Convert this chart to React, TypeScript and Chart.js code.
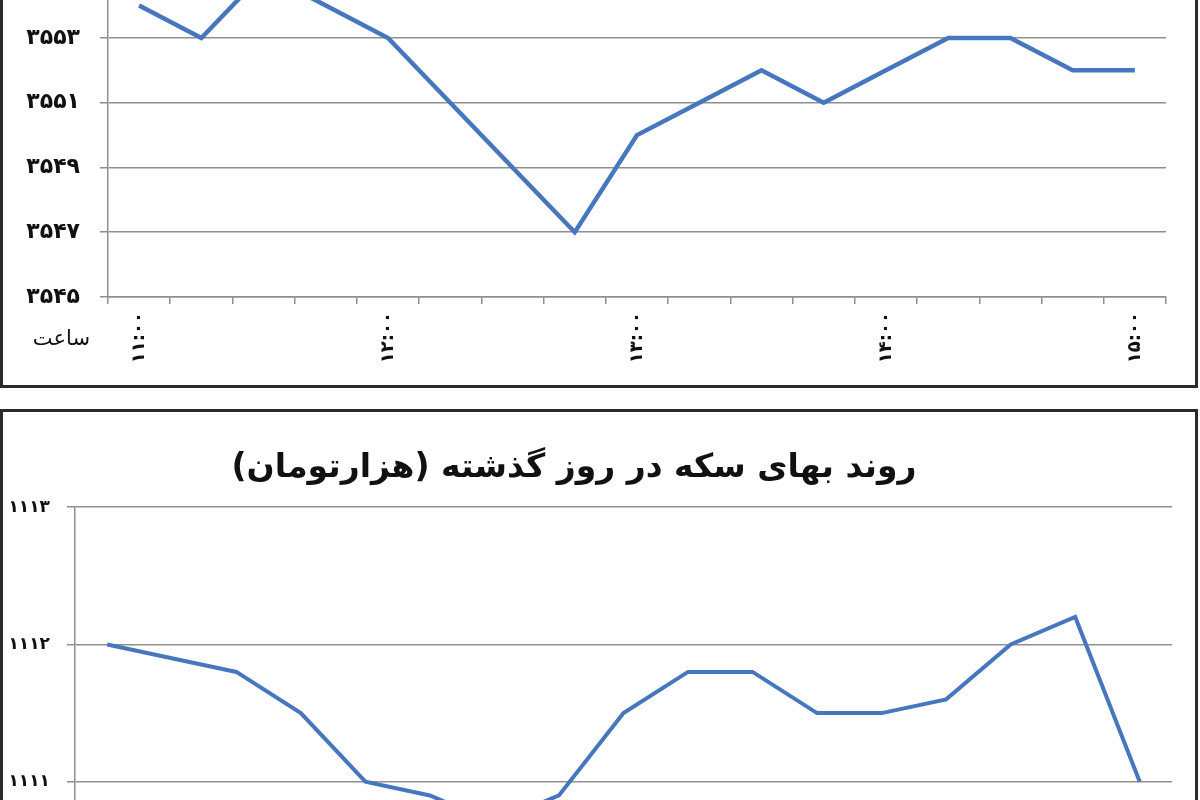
import { useEffect, useRef } from 'react';
import { Chart, registerables } from 'chart.js';

Chart.register(...registerables);

// quarter-hour readings, 11:00 to 15:00
const times = [
    '11:00', '11:15', '11:30', '11:45',
    '12:00', '12:15', '12:30', '12:45',
    '13:00', '13:15', '13:30', '13:45',
    '14:00', '14:15', '14:30', '14:45',
    '15:00',
];
const hourLabels = ['11:00', '12:00', '13:00', '14:00', '15:00'];

// upper chart (cut off at the top of the page)
const upperValues = [
    3554, 3553, 3555, 3554, 3553, 3551, 3549, 3547, 3550,
    3551, 3552, 3551, 3552, 3553, 3553, 3552, 3552,
];
const upperTicks = [3545, 3547, 3549, 3551, 3553, 3555];

// coin price, thousand toman
const coinValues = [
    1112, 1111.9, 1111.8, 1111.5, 1111.0, 1110.9, 1110.7, 1110.9, 1111.5,
    1111.8, 1111.8, 1111.5, 1111.5, 1111.6, 1112, 1112.2, 1111,
];
const coinTicks = [1110, 1111, 1112, 1113];

const coinTitle = 'روند بهای سکه در روز گذشته (هزارتومان)';
const hourWord = 'ساعت';

const FONT = "'DejaVu Sans', sans-serif";
const LINE = '#4677be';
const GRID = '#8f8f8f';

const faDigits = '۰۱۲۳۴۵۶۷۸۹';
const toFa = (s: string) => s.replace(/\d/g, (d) => faDigits[Number(d)]);

interface ChartSetup {
    values: number[];
    ticks: number[];
    yWidth: number;
    xHeight: number;
    padTop: number;
    padRight: number;
    yFontSize: number;
    yPadding: number;
    lineWidth: number;
}

function LineBox({ setup, style }: { setup: ChartSetup; style: React.CSSProperties }) {
    const canvasRef = useRef<HTMLCanvasElement>(null);

    useEffect(() => {
        if (!canvasRef.current) return;
        const s = setup;
        const chart = new Chart(canvasRef.current, {
            type: 'line',
            data: {
                labels: times,
                datasets: [
                    {
                        data: s.values,
                        borderColor: LINE,
                        borderWidth: s.lineWidth,
                        pointRadius: 0,
                        tension: 0,
                        fill: false,
                    },
                ],
            },
            options: {
                responsive: true,
                maintainAspectRatio: false,
                animation: false,
                layout: { padding: { top: s.padTop, right: s.padRight, left: 0, bottom: 0 } },
                plugins: { legend: { display: false }, tooltip: { enabled: false } },
                scales: {
                    x: {
                        offset: true,
                        grid: {
                            offset: true,
                            drawOnChartArea: false,
                            drawTicks: true,
                            tickLength: 7,
                            color: GRID,
                            lineWidth: 1.5,
                        },
                        border: { display: true, color: GRID, width: 1.5 },
                        ticks: {
                            autoSkip: false,
                            minRotation: 90,
                            maxRotation: 90,
                            padding: 8,
                            color: '#111',
                            font: { family: FONT, size: 18, weight: 'bold' },
                            callback: (_v, i) =>
                                hourLabels.includes(times[i]) ? toFa(times[i]) : '',
                        },
                        afterFit: (scale) => {
                            scale.height = s.xHeight;
                        },
                    },
                    y: {
                        min: s.ticks[0],
                        max: s.ticks[s.ticks.length - 1],
                        grid: { color: GRID, lineWidth: 1.5, tickLength: 8 },
                        border: { display: true, color: GRID, width: 1.5 },
                        ticks: {
                            stepSize: s.ticks[1] - s.ticks[0],
                            padding: s.yPadding,
                            color: '#111',
                            font: { family: FONT, size: s.yFontSize, weight: 'bold' },
                            callback: (v) => toFa(String(v)),
                        },
                        afterFit: (scale) => {
                            scale.width = s.yWidth;
                        },
                    },
                },
            },
        });
        return () => chart.destroy();
    }, [setup]);

    return (
        <div style={{ position: 'absolute', ...style }}>
            <canvas ref={canvasRef} />
        </div>
    );
}

const upperSetup: ChartSetup = {
    values: upperValues,
    ticks: upperTicks,
    yWidth: 108,
    xHeight: 83,
    padTop: 32,
    padRight: 20,
    yFontSize: 22,
    yPadding: 20,
    lineWidth: 4.5,
};

const coinSetup: ChartSetup = {
    values: coinValues,
    ticks: coinTicks,
    yWidth: 75,
    xHeight: 81,
    padTop: 25,
    padRight: 18,
    yFontSize: 17,
    yPadding: 17,
    lineWidth: 4,
};

export default function App() {
    return (
        <div
            style={{
                position: 'fixed',
                left: 0,
                top: 0,
                width: 1200,
                height: 800,
                overflow: 'hidden',
                background: '#fff',
            }}
        >
            <div
                style={{
                    position: 'absolute',
                    left: 0,
                    top: -100,
                    width: 1198,
                    height: 488,
                    boxSizing: 'border-box',
                    border: '3px solid #2a2a2a',
                }}
            />
            <div
                style={{
                    position: 'absolute',
                    left: 0,
                    top: 409,
                    width: 1198,
                    height: 500,
                    boxSizing: 'border-box',
                    border: '3px solid #2a2a2a',
                }}
            />
            <LineBox setup={upperSetup} style={{ left: 0, top: -60, width: 1186, height: 440 }} />
            <LineBox setup={coinSetup} style={{ left: 0, top: 480, width: 1190, height: 520 }} />
            <div
                dir="rtl"
                style={{
                    position: 'absolute',
                    left: 0,
                    top: 326,
                    width: 90,
                    textAlign: 'right',
                    font: `21px ${FONT}`,
                    color: '#111',
                }}
            >
                {hourWord}
            </div>
            <div
                dir="rtl"
                style={{
                    position: 'absolute',
                    left: 0,
                    top: 446,
                    width: 1148,
                    textAlign: 'center',
                    font: `bold 33px ${FONT}`,
                    color: '#111',
                }}
            >
                {coinTitle}
            </div>
        </div>
    );
}
